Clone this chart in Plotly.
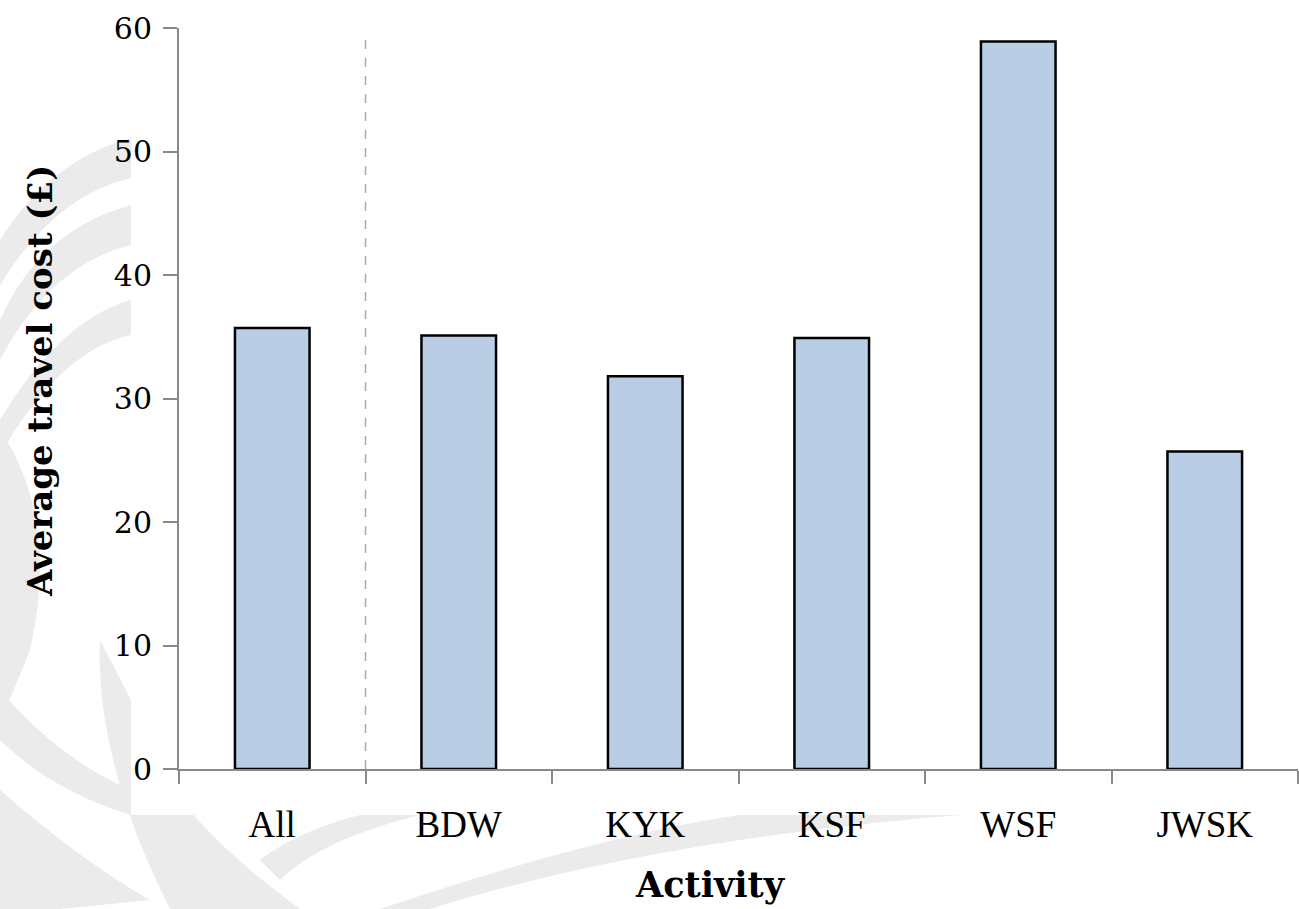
import plotly.graph_objects as go

categories = ["All", "BDW", "KYK", "KSF", "WSF", "JWSK"]
values = [35.7, 35.1, 31.8, 34.9, 58.9, 25.7]
y_ticks = [0, 10, 20, 30, 40, 50, 60]
x_title = "Activity"
y_title = "Average travel cost (£)"

W, H = 1299, 909
ML, MR, MT, MB = 179, 1, 28, 140
PW, PH = W - ML - MR, H - MT - MB

serif = "'DejaVu Serif', Georgia, serif"
times = "'Liberation Serif', 'Times New Roman', serif"


def fx(px):
    return (px - ML) / PW


def fy(py):
    return (H - MB - py) / PH


def P(px, py):
    return f"{fx(px):.4f},{fy(py):.4f}"


# decorative watermark bands (background only)
wm = [
    f"M{P(131,138)} Q{P(50,160)} {P(0,240)} L{P(0,285)} Q{P(55,195)} {P(131,178)} Z",
    f"M{P(131,205)} Q{P(40,230)} {P(0,320)} L{P(0,360)} Q{P(50,265)} {P(131,245)} Z",
    f"M{P(131,300)} Q{P(60,320)} {P(0,420)} L{P(0,455)} Q{P(60,350)} {P(131,335)} Z",
    f"M{P(0,430)} Q{P(60,520)} {P(30,650)} Q{P(10,700)} {P(0,720)} Z",
    f"M{P(0,690)} Q{P(60,760)} {P(131,790)} L{P(131,815)} Q{P(50,790)} {P(0,740)} Z",
    f"M{P(100,640)} Q{P(95,760)} {P(170,909)} L{P(300,909)} Q{P(150,800)} {P(131,700)} Z",
    f"M{P(0,790)} Q{P(80,860)} {P(150,900)} L{P(60,909)} L{P(0,909)} Z",
    f"M{P(260,860)} Q{P(300,830)} {P(360,815)} L{P(420,815)} Q{P(320,840)} {P(280,880)} Z",
    f"M{P(430,909)} Q{P(650,840)} {P(960,815)} L{P(740,815)} Q{P(600,835)} {P(380,909)} Z",
]

fig = go.Figure()
fig.add_trace(go.Bar(
    x=categories, y=values, width=0.4,
    marker=dict(color="#b9cde4", line=dict(color="#000000", width=2.5)),
))

for p in wm:
    fig.add_shape(type="path", path=p, xref="paper", yref="paper",
                  fillcolor="#ebebeb", line=dict(width=0), layer="below")
fig.add_shape(type="rect", xref="paper", yref="paper",
              x0=fx(131), x1=1.01, y0=fy(815), y1=fy(-5),
              fillcolor="white", line=dict(width=0), layer="below")

fig.add_shape(type="line", xref="x", yref="y", x0=0.5, x1=0.5, y0=0, y1=59.7,
              line=dict(color="#aaaaaa", width=1.5, dash="dash"), layer="above")

fig.add_annotation(text=f"<b>{x_title}</b>", xref="paper", yref="paper",
                   x=fx(710), y=fy(884), xanchor="center", yanchor="middle", showarrow=False,
                   font=dict(family=serif, size=35, color="#000000"))
fig.add_annotation(text=f"<b>{y_title}</b>", xref="paper", yref="paper", textangle=-90,
                   x=fx(40), y=fy(381), xanchor="center", yanchor="middle", showarrow=False,
                   font=dict(family=serif, size=34, color="#000000"))

fig.update_layout(
    width=W, height=H,
    margin=dict(l=ML, r=MR, t=MT, b=MB),
    plot_bgcolor="rgba(0,0,0,0)", paper_bgcolor="white",
    showlegend=False,
    xaxis=dict(
        range=[-0.5, 5.5], tickson="boundaries", ticks="outside", ticklen=13,
        tickwidth=2, tickcolor="#898989", showline=True, linecolor="#898989", linewidth=2,
        showgrid=False, tickfont=dict(family=times, size=37, color="#000000"),
        ticklabelstandoff=22,
    ),
    yaxis=dict(
        range=[0, 60], tickvals=y_ticks, ticks="outside", ticklen=14, tickwidth=2,
        tickcolor="#898989", showline=True, linecolor="#898989", linewidth=2,
        showgrid=False, zeroline=False, tickfont=dict(family=serif, size=30, color="#000000"),
        ticklabelstandoff=5,
    ),
)

fig.write_html("out.html")
